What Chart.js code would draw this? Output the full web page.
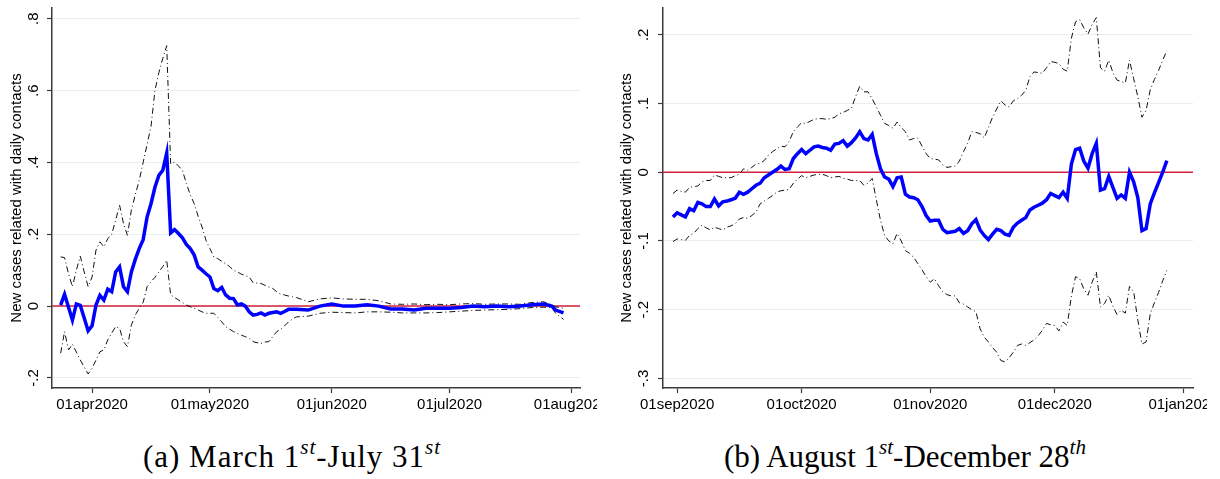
<!DOCTYPE html>
<html>
<head>
<meta charset="utf-8">
<script src="https://cdn.jsdelivr.net/npm/chart.js@4/dist/chart.umd.min.js"></script>
<style>
  body { margin: 0; background: #fff; width: 1220px; height: 479px; position: relative; overflow: hidden; }
  canvas { position: absolute; top: 0; }
  #chartA { left: 0; }
  #chartB { left: 600px; }
  .caption {
    position: absolute; top: 441px; width: 500px; text-align: center;
    font-family: "Liberation Serif", "DejaVu Serif", serif; font-size: 31px; line-height: 1; color: #000;
    white-space: nowrap;
  }
  .caption sup { font-style: italic; font-size: 0.68em; vertical-align: 0.62em; line-height: 0; }
  #capA { left: 42px; letter-spacing: 1px; }
  #capB { left: 655px; }
</style>
</head>
<body>
<canvas id="chartA" width="597" height="420"></canvas>
<canvas id="chartB" width="607" height="420"></canvas>
<div class="caption" id="capA">(a) March 1<sup>st</sup>-July 31<sup>st</sup></div>
<div class="caption" id="capB">(b) August 1<sup>st</sup>-December 28<sup>th</sup></div>
<script>
  // ---- Panel (a): March - July ----
  const aDates = [
    "2020-03-24", "2020-03-25", "2020-03-26", "2020-03-27", "2020-03-28", "2020-03-29", "2020-03-30", "2020-03-31",
    "2020-04-01", "2020-04-02", "2020-04-03", "2020-04-04", "2020-04-05", "2020-04-06", "2020-04-07", "2020-04-08", "2020-04-09", "2020-04-10",
    "2020-04-11", "2020-04-12", "2020-04-13", "2020-04-14", "2020-04-15", "2020-04-16", "2020-04-17", "2020-04-18", "2020-04-19", "2020-04-20",
    "2020-04-21", "2020-04-22", "2020-04-23", "2020-04-24", "2020-04-25", "2020-04-26", "2020-04-27", "2020-04-28", "2020-04-29", "2020-04-30",
    "2020-05-01", "2020-05-02", "2020-05-03", "2020-05-04", "2020-05-05", "2020-05-06", "2020-05-07", "2020-05-08", "2020-05-09", "2020-05-10",
    "2020-05-11", "2020-05-12", "2020-05-13", "2020-05-14", "2020-05-15", "2020-05-16", "2020-05-17", "2020-05-18", "2020-05-19", "2020-05-20",
    "2020-05-21", "2020-05-22", "2020-05-23",
    "2020-05-26", "2020-05-29", "2020-06-01", "2020-06-04", "2020-06-07", "2020-06-10", "2020-06-13", "2020-06-16",
    "2020-06-19", "2020-06-22", "2020-06-25", "2020-06-28", "2020-07-01", "2020-07-04", "2020-07-07", "2020-07-10",
    "2020-07-13", "2020-07-16", "2020-07-19", "2020-07-22", "2020-07-25", "2020-07-27", "2020-07-28", "2020-07-30",
  ];
  const aMean = [
    0.003, 0.033, -0.003, -0.039, 0.006, 0.002, -0.033, -0.069,
    -0.055, 0.003, 0.030, 0.017, 0.047, 0.040, 0.095, 0.109, 0.054, 0.040,
    0.095, 0.130, 0.160, 0.185, 0.248, 0.285, 0.331, 0.364, 0.378, 0.426,
    0.204, 0.213, 0.202, 0.190, 0.172, 0.160, 0.142, 0.109, 0.100, 0.090,
    0.081, 0.049, 0.043, 0.052, 0.031, 0.022, 0.021, 0.003, 0.006, 0.000,
    -0.016, -0.025, -0.023, -0.019, -0.025, -0.020, -0.018, -0.016, -0.020, -0.015,
    -0.009, -0.009, -0.009,
    -0.011, 0.000, 0.006, 0.000, 0.000, 0.004, 0.000, -0.008,
    -0.008, -0.011, -0.006, -0.006, -0.006, -0.004, 0.000, -0.002,
    0.000, -0.002, 0.000, 0.004, 0.006, 0.000, -0.011, -0.019,
  ];
  const aHi = [
    0.137, 0.135, 0.090, 0.054, 0.100, 0.139, 0.095, 0.054,
    0.081, 0.156, 0.179, 0.165, 0.188, 0.200, 0.239, 0.281, 0.230, 0.197,
    0.267, 0.310, 0.350, 0.400, 0.450, 0.500, 0.600, 0.650, 0.690, 0.725,
    0.396, 0.401, 0.390, 0.378, 0.341, 0.310, 0.285, 0.250, 0.220, 0.183,
    0.160, 0.137, 0.132, 0.125, 0.118, 0.110, 0.100, 0.095, 0.089, 0.085,
    0.081, 0.065, 0.064, 0.063, 0.058, 0.053, 0.049, 0.040, 0.033, 0.031,
    0.028, 0.026, 0.024,
    0.012, 0.020, 0.023, 0.020, 0.019, 0.019, 0.015, 0.006,
    0.005, 0.006, 0.004, 0.005, 0.004, 0.006, 0.007, 0.005,
    0.006, 0.006, 0.005, 0.010, 0.012, 0.003, -0.002, -0.006,
  ];
  const aLo = [
    -0.131, -0.071, -0.122, -0.106, -0.128, -0.150, -0.170, -0.189,
    -0.173, -0.150, -0.127, -0.122, -0.094, -0.075, -0.057, -0.062, -0.099, -0.113,
    -0.053, -0.025, -0.006, 0.010, 0.054, 0.068, 0.080, 0.095, 0.110, 0.128,
    0.031, 0.024, 0.017, 0.010, 0.003, -0.002, -0.006, -0.011, -0.016, -0.020,
    -0.020, -0.020, -0.032, -0.044, -0.057, -0.064, -0.071, -0.076, -0.081, -0.085,
    -0.090, -0.099, -0.102, -0.104, -0.100, -0.099, -0.085, -0.071, -0.065, -0.055,
    -0.044, -0.036, -0.030,
    -0.028, -0.020, -0.017, -0.018, -0.019, -0.016, -0.016, -0.017,
    -0.019, -0.019, -0.019, -0.018, -0.016, -0.014, -0.012, -0.011,
    -0.010, -0.009, -0.007, -0.004, -0.003, -0.004, -0.020, -0.037,
  ];
  const aTickDates = ["2020-04-01", "2020-05-01", "2020-06-01", "2020-07-01", "2020-08-01"];
  const aYTicks = [-0.2, 0, 0.2, 0.4, 0.6, 0.8];

  // ---- Panel (b): August - December ----
  const bDates = [
    "2020-08-31",
    "2020-09-01", "2020-09-02", "2020-09-03", "2020-09-04", "2020-09-05", "2020-09-06", "2020-09-07", "2020-09-08", "2020-09-09", "2020-09-10",
    "2020-09-11", "2020-09-12", "2020-09-13", "2020-09-14", "2020-09-15", "2020-09-16", "2020-09-17", "2020-09-18", "2020-09-19", "2020-09-20",
    "2020-09-21", "2020-09-22", "2020-09-23", "2020-09-24", "2020-09-25", "2020-09-26", "2020-09-27", "2020-09-28", "2020-09-29", "2020-09-30",
    "2020-10-01", "2020-10-02", "2020-10-03", "2020-10-04", "2020-10-05", "2020-10-06", "2020-10-07", "2020-10-08", "2020-10-09", "2020-10-10",
    "2020-10-11", "2020-10-12", "2020-10-13", "2020-10-14", "2020-10-15", "2020-10-16", "2020-10-17", "2020-10-18", "2020-10-19", "2020-10-20",
    "2020-10-21", "2020-10-22", "2020-10-23", "2020-10-24", "2020-10-25", "2020-10-26", "2020-10-27", "2020-10-28", "2020-10-29", "2020-10-30",
    "2020-10-31",
    "2020-11-01", "2020-11-02", "2020-11-03", "2020-11-04", "2020-11-05", "2020-11-06", "2020-11-07", "2020-11-08", "2020-11-09", "2020-11-10",
    "2020-11-11", "2020-11-12", "2020-11-13", "2020-11-14", "2020-11-15", "2020-11-16", "2020-11-17", "2020-11-18", "2020-11-19", "2020-11-20",
    "2020-11-21", "2020-11-22", "2020-11-23", "2020-11-24", "2020-11-25", "2020-11-26", "2020-11-27", "2020-11-28", "2020-11-29", "2020-11-30",
    "2020-12-01", "2020-12-02", "2020-12-03", "2020-12-04", "2020-12-05", "2020-12-06", "2020-12-07", "2020-12-08", "2020-12-09", "2020-12-10",
    "2020-12-11", "2020-12-12", "2020-12-13", "2020-12-14", "2020-12-15", "2020-12-16", "2020-12-17", "2020-12-18", "2020-12-19", "2020-12-20",
    "2020-12-21", "2020-12-22", "2020-12-23", "2020-12-24", "2020-12-25", "2020-12-26", "2020-12-27", "2020-12-28",
  ];
  const bMean = [
    -0.065, -0.059, -0.062, -0.065, -0.053, -0.056, -0.044, -0.046, -0.050, -0.050,
    -0.039, -0.049, -0.043, -0.042, -0.040, -0.038, -0.029, -0.032, -0.029, -0.024,
    -0.019, -0.016, -0.008, -0.004, 0.000, 0.004, 0.009, 0.004, 0.005, 0.020,
    0.027, 0.033, 0.027, 0.032, 0.037, 0.038, 0.036, 0.035, 0.032, 0.041,
    0.042, 0.046, 0.038, 0.043, 0.050, 0.059, 0.049, 0.047, 0.055, 0.027,
    0.005, -0.007, -0.010, -0.021, -0.008, -0.007, -0.032, -0.036, -0.037, -0.040,
    -0.050, -0.063, -0.071, -0.070, -0.070, -0.083, -0.088, -0.087, -0.086, -0.082,
    -0.089, -0.085, -0.075, -0.069, -0.084, -0.092, -0.098, -0.090, -0.083, -0.085,
    -0.090, -0.092, -0.080, -0.074, -0.070, -0.066, -0.055, -0.051, -0.048, -0.045,
    -0.040, -0.031, -0.034, -0.037, -0.029, -0.038, 0.012, 0.033, 0.035, 0.016,
    0.006, 0.027, 0.042, -0.026, -0.024, -0.006, -0.022, -0.038, -0.033, -0.038,
    0.000, -0.014, -0.037, -0.085, -0.082, -0.046, -0.030, -0.015, 0.000, 0.017,
  ];
  const bHi = [
    -0.031, -0.026, -0.028, -0.029, -0.022, -0.021, -0.020, -0.014, -0.012, -0.012,
    -0.004, -0.006, -0.008, -0.008, -0.008, -0.005, -0.003, 0.005, 0.003, 0.007,
    0.012, 0.013, 0.017, 0.025, 0.030, 0.034, 0.038, 0.037, 0.045, 0.059,
    0.066, 0.072, 0.071, 0.074, 0.077, 0.078, 0.078, 0.077, 0.078, 0.080,
    0.085, 0.087, 0.090, 0.093, 0.110, 0.125, 0.117, 0.117, 0.107, 0.095,
    0.083, 0.071, 0.068, 0.064, 0.073, 0.065, 0.059, 0.047, 0.049, 0.050,
    0.038, 0.027, 0.020, 0.019, 0.018, 0.011, 0.007, 0.008, 0.009, 0.016,
    0.030, 0.042, 0.059, 0.058, 0.056, 0.050, 0.065, 0.080, 0.092, 0.104,
    0.098, 0.095, 0.104, 0.107, 0.112, 0.119, 0.139, 0.146, 0.145, 0.144,
    0.152, 0.161, 0.160, 0.158, 0.150, 0.147, 0.195, 0.219, 0.222, 0.210,
    0.201, 0.215, 0.225, 0.152, 0.147, 0.163, 0.145, 0.134, 0.132, 0.130,
    0.163, 0.136, 0.110, 0.080, 0.090, 0.120, 0.135, 0.148, 0.163, 0.177,
  ];
  const bLo = [
    -0.101, -0.097, -0.098, -0.099, -0.092, -0.089, -0.082, -0.077, -0.081, -0.084,
    -0.080, -0.082, -0.084, -0.080, -0.078, -0.075, -0.068, -0.066, -0.067, -0.063,
    -0.058, -0.046, -0.042, -0.038, -0.034, -0.029, -0.027, -0.026, -0.025, -0.016,
    -0.010, -0.005, -0.008, -0.006, -0.004, -0.003, -0.003, -0.005, -0.008, -0.007,
    -0.006, -0.009, -0.010, -0.012, -0.012, -0.012, -0.019, -0.016, -0.009, -0.040,
    -0.070, -0.092, -0.100, -0.104, -0.089, -0.100, -0.114, -0.118, -0.124, -0.133,
    -0.142, -0.152, -0.160, -0.155, -0.165, -0.174, -0.178, -0.180, -0.180, -0.190,
    -0.192, -0.196, -0.200, -0.203, -0.228, -0.240, -0.247, -0.255, -0.262, -0.274,
    -0.276, -0.270, -0.262, -0.252, -0.250, -0.252, -0.248, -0.244, -0.238, -0.230,
    -0.220, -0.222, -0.223, -0.231, -0.218, -0.223, -0.180, -0.152, -0.155, -0.170,
    -0.179, -0.160, -0.145, -0.196, -0.191, -0.179, -0.195, -0.207, -0.201, -0.205,
    -0.166, -0.174, -0.215, -0.250, -0.247, -0.206, -0.190, -0.175, -0.158, -0.143,
  ];
  const bTickDates = ["2020-09-01", "2020-10-01", "2020-11-01", "2020-12-01", "2021-01-01"];
  const bYTicks = [-0.3, -0.2, -0.1, 0, 0.1, 0.2];

  const Y_TITLE = "New cases related with daily contacts";
  const MONTHS = ["jan", "feb", "mar", "apr", "may", "jun", "jul", "aug", "sep", "oct", "nov", "dec"];
  const BLUE = "#0000ff";
  const RED = "#d0203f";
  const GRID = "#e6eef0";
  const AXIS = "#3c3c3c";

  Chart.defaults.font.family = "'Liberation Sans', Arial, sans-serif";
  Chart.defaults.font.size = 15;
  Chart.defaults.color = "#000";

  function dayNum(iso) {
    const [y, m, d] = iso.split("-").map(Number);
    return Date.UTC(y, m - 1, d) / 86400000;
  }

  function formatDay(v) {
    const date = new Date(v * 86400000);
    const dd = String(date.getUTCDate()).padStart(2, "0");
    return `${dd}${MONTHS[date.getUTCMonth()]}${date.getUTCFullYear()}`;
  }

  function formatY(v) {
    if (Math.abs(v) < 1e-9) {
      return "0";
    }
    return v.toFixed(1).replace("0.", ".");
  }

  // Red reference line at zero, drawn under the series.
  const zeroLine = {
    id: "zeroLine",
    beforeDatasetsDraw(chart) {
      const {ctx, chartArea, scales} = chart;
      const y = scales.y.getPixelForValue(0);
      ctx.save();
      ctx.strokeStyle = RED;
      ctx.lineWidth = 1.5;
      ctx.beginPath();
      ctx.moveTo(chartArea.left, y);
      ctx.lineTo(chartArea.right, y);
      ctx.stroke();
      ctx.restore();
    },
  };

  function series(dates, values) {
    return dates.map((d, i) => ({x: dayNum(d), y: values[i]}));
  }

  function ciDataset(dates, values) {
    return {
      data: series(dates, values),
      borderColor: "#111",
      borderWidth: 1,
      borderDash: [6, 3, 1, 3],
      pointRadius: 0,
      tension: 0,
    };
  }

  function makePanel(canvasId, cfg) {
    const xTicks = cfg.tickDates.map(dayNum);
    return new Chart(document.getElementById(canvasId), {
      type: "line",
      data: {
        datasets: [
          {
            data: series(cfg.dates, cfg.mean),
            borderColor: BLUE,
            borderWidth: 3.5,
            pointRadius: 0,
            tension: 0,
          },
          ciDataset(cfg.dates, cfg.hi),
          ciDataset(cfg.dates, cfg.lo),
        ],
      },
      options: {
        responsive: false,
        animation: false,
        events: [],
        layout: {padding: {top: 8, right: cfg.padRight, bottom: 0, left: 0}},
        plugins: {legend: {display: false}, tooltip: {enabled: false}},
        scales: {
          x: {
            type: "linear",
            min: cfg.xMin,
            max: cfg.xMax,
            afterBuildTicks: (scale) => {
              scale.ticks = xTicks.map((v) => ({value: v}));
            },
            afterFit: (scale) => {
              scale.height = 32;
              scale.paddingLeft = 0;
              scale.paddingRight = 0;
            },
            ticks: {autoSkip: false, maxRotation: 0, padding: 3, callback: (v) => formatDay(v)},
            grid: {drawOnChartArea: false, tickLength: 5, tickColor: AXIS, tickWidth: 1.2},
            border: {color: AXIS, width: 1.5},
          },
          y: {
            min: cfg.yMin,
            max: cfg.yMax,
            afterBuildTicks: (scale) => {
              scale.ticks = cfg.yTicks.map((v) => ({value: v}));
            },
            afterFit: (scale) => {
              scale.width = cfg.axisLeft;
              scale.paddingTop = 0;
              scale.paddingBottom = 0;
            },
            ticks: {
              minRotation: 90,
              maxRotation: 90,
              crossAlign: "center",
              padding: cfg.tickPad,
              callback: (v) => formatY(v),
            },
            grid: {color: GRID, lineWidth: 1, tickLength: 5, tickColor: AXIS, tickWidth: 1.2},
            border: {color: AXIS, width: 1.5},
            title: {display: true, text: Y_TITLE, padding: {top: cfg.titlePad, bottom: 0}},
          },
        },
      },
      plugins: [zeroLine],
    });
  }

  makePanel("chartA", {
    dates: aDates, mean: aMean, hi: aHi, lo: aLo,
    tickDates: aTickDates, yTicks: aYTicks,
    xMin: dayNum("2020-03-22") - 0.2, xMax: dayNum("2020-08-03") + 0.2,
    yMin: -0.228, yMax: 0.83,
    axisLeft: 52, padRight: 17, tickPad: 4.5, titlePad: 7.5,
  });

  makePanel("chartB", {
    dates: bDates, mean: bMean, hi: bHi, lo: bLo,
    tickDates: bTickDates, yTicks: bYTicks,
    xMin: dayNum("2020-08-28") + 0.6, xMax: dayNum("2021-01-03") + 0.3,
    yMin: -0.314, yMax: 0.239,
    axisLeft: 63, padRight: 14, tickPad: 5.5, titlePad: 18,
  });
</script>
</body>
</html>
